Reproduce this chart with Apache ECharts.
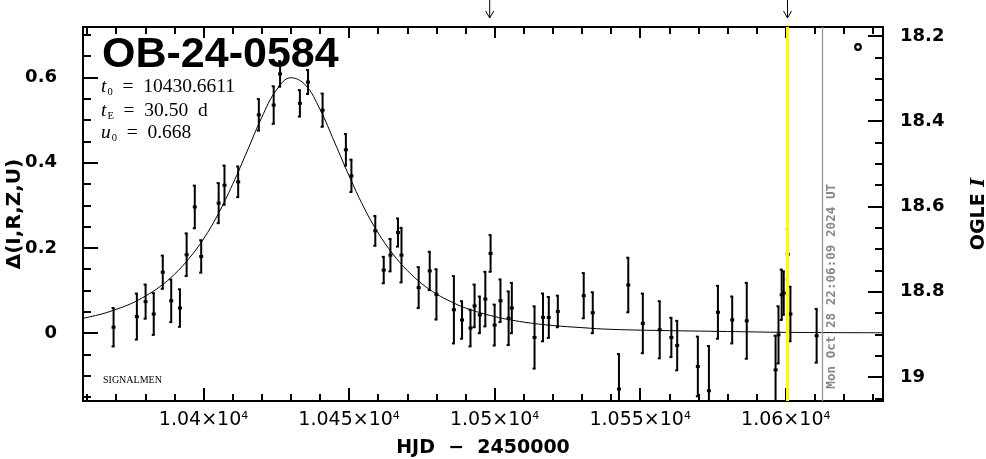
<!DOCTYPE html>
<html><head><meta charset="utf-8">
<script src="https://cdn.jsdelivr.net/npm/echarts@6/dist/echarts.min.js"></script>
<style>html,body{margin:0;padding:0;background:#fff}#c{width:986px;height:459px}</style>
</head><body><div id="c"></div>
<script>
// ---- data ----
const obsHJD = [10369.1,10377.1,10380.1,10382.9,10386.0,10388.9,10391.9,10394.2,10397.0,10399.2,
  10405.2,10407.2,10411.9,10419.0,10424.1,10426.3,10433.1,10435.9,10440.9,10448.9,
  10450.8,10459.0,10461.9,10464.2,10466.8,10468.0,10473.9,10477.7,10480.0,10486.0,
  10488.8,10491.7,10493.1,10494.9,10496.8,10498.6,10500.0,10502.0,10504.8,10505.9,
  10513.7,10516.6,10518.6,10521.7,10530.6,10533.7,10542.7,10545.9,10550.9,10556.7,
  10560.7,10562.7,10569.8,10573.6,10576.7,10581.6,10586.6,10596.5,10597.5,10598.6,
  10599.3,10600.7,10601.6,10610.6];
const obsDelta = [0.014,0.039,0.074,0.045,0.143,0.076,0.059,0.184,0.296,0.180,
  0.305,0.347,0.355,0.512,0.535,0.608,0.539,0.589,0.523,0.430,
  0.369,0.240,0.148,0.183,0.236,0.183,0.107,0.146,0.091,0.055,
  0.031,0.012,0.064,0.043,0.080,0.187,0.019,0.076,0.035,0.059,
  -0.010,0.037,0.037,0.051,0.088,0.048,-0.131,0.113,0.023,0.008,
  -0.010,-0.029,-0.078,-0.135,0.049,0.031,0.029,-0.086,-0.004,0.090,
  0.094,0.185,0.045,-0.006];
const obsErr = [0.045,0.054,0.040,0.049,0.039,0.050,0.044,0.050,0.050,0.038,
  0.047,0.046,0.036,0.037,0.044,0.030,0.031,0.028,0.039,0.037,
  0.038,0.035,0.031,0.038,0.033,0.064,0.048,0.045,0.059,0.079,
  0.044,0.043,0.050,0.043,0.064,0.043,0.048,0.050,0.063,0.059,
  0.073,0.056,0.048,0.037,0.053,0.048,0.082,0.064,0.070,0.067,
  0.046,0.058,0.070,0.105,0.062,0.055,0.089,0.080,0.067,0.059,
  0.051,0.059,0.064,0.063];
const modelHJD = [10358.6,10365,10370,10375,10380,10385,10390,10395,10400,10405,10410,10415,
  10420,10425,10430,10435,10440,10445,10450,10455,10460,10465,10470,10475,10480,10485,
  10490,10500,10510,10520,10530,10540,10560,10580,10600,10633.4];
const modelDelta = [0.035,0.045,0.056,0.069,0.087,0.109,0.138,0.175,0.221,0.279,0.349,0.427,
  0.506,0.570,0.599,0.582,0.525,0.448,0.369,0.296,0.235,0.186,0.147,0.116,0.092,0.074,
  0.059,0.039,0.026,0.018,0.013,0.009,0.006,0.004,0.002,0.001];
const xMajorTicks = [10400,10450,10500,10550,10600];
const xTickLabels = ['1.04','1.045','1.05','1.055','1.06'];
const xMinorTicks = [10360,10370,10380,10390,10400,10410,10420,10430,10440,10450,10460,10470,
  10480,10490,10500,10510,10520,10530,10540,10550,10560,10570,10580,10590,10600,10610,10620,10630];
const yMajorTicks = [0,0.2,0.4,0.6];
const yTickLabels = ['0','0.2','0.4','0.6'];
const yMinorTicks = [-0.15,-0.1,-0.05,0,0.05,0.1,0.15,0.2,0.25,0.3,0.35,0.4,0.45,0.5,0.55,0.6,0.65,0.7];
const magMajorTicks = [18.2,18.4,18.6,18.8,19];
const magTickLabels = ['18.2','18.4','18.6','18.8','19'];
const magMinorTicks = [18.2,18.25,18.3,18.35,18.4,18.45,18.5,18.55,18.6,18.65,18.7,18.75,18.8,18.85,18.9,18.95,19,19.05];
const arrowHJD = [10498.3,10600.6];
const yellowHJD = 10600.6;
const greyHJD = 10612.7;
const fitParams = [['t','0','10430.6611'],['t','E','30.50  d'],['u','0','0.668']];

// ---- chart ----
const xMin = 10358.6, xMax = 10633.4;
const yMin = -0.159, yMax = 0.718;
const magAtZero = 18.897;
const chart = echarts.init(document.getElementById('c'), null, {renderer:'canvas'});
const black = '#000';
function xAx(pos, major) {
  return {type:'value', min:xMin, max:xMax, position:pos, gridIndex:0, nameMoveOverlap:false,
    axisLine:{show:true, onZero:false, lineStyle:{color:black, width:2}},
    axisTick:{show:true, inside:true, length: major ? (pos==='bottom'?13:11) : 7,
      lineStyle:{color:black, width:2}, customValues: major ? xMajorTicks : xMinorTicks},
    axisLabel: (major && pos==='bottom') ? {show:true, customValues:xMajorTicks, margin:10,
      color:black, fontFamily:'DejaVu Sans', fontSize:19,
      formatter:(v)=>{const i=xMajorTicks.indexOf(Math.round(v)); return i<0?'':xTickLabels[i]+'×10{s|4}';},
      rich:{s:{fontSize:11, fontFamily:'DejaVu Sans', color:black, verticalAlign:'top', padding:[0,0,8,0]}}} : {show:false},
    splitLine:{show:false}};
}
function yAx(pos, major, isMag) {
  const ax = {type:'value', position:pos, gridIndex:0, nameMoveOverlap:false,
    min: isMag ? +(magAtZero - yMax).toFixed(4) : yMin,
    max: isMag ? +(magAtZero - yMin).toFixed(4) : yMax,
    inverse: !!isMag,
    axisLine:{show:true, onZero:false, lineStyle:{color:black, width:2}},
    axisTick:{show:true, inside:true, length: major?15:8, lineStyle:{color:black, width:2},
      customValues: isMag ? (major?magMajorTicks:magMinorTicks) : (major?yMajorTicks:yMinorTicks)},
    axisLabel:{show:false}, splitLine:{show:false}};
  if (major) {
    const vals = isMag ? magMajorTicks : yMajorTicks;
    const labs = isMag ? magTickLabels : yTickLabels;
    ax.axisLabel = {show:true, customValues: vals, margin: isMag?17:26, color:black,
      fontFamily:'DejaVu Sans', fontWeight:'bold', fontSize:18,
      formatter:(v)=>{let i=vals.findIndex(t=>Math.abs(t-v)<1e-6); return i<0?'':labs[i];}};
  }
  return ax;
}
const xAxes = [xAx('bottom',true), xAx('bottom',false), xAx('top',true), xAx('top',false)];
xAxes[0].name = 'HJD  −  2450000';
xAxes[0].nameLocation = 'middle';
xAxes[0].nameGap = 38;
xAxes[0].nameTextStyle = {color:black, fontFamily:'DejaVu Sans', fontSize:19, fontWeight:'bold'};
const yAxes = [yAx('left',true,false), yAx('left',false,false), yAx('right',true,true), yAx('right',false,true)];
yAxes[0].name = 'Δ(I,R,Z,U)';
yAxes[0].nameLocation = 'middle';
yAxes[0].nameRotate = 90;
yAxes[0].nameGap = 58;
yAxes[0].nameTextStyle = {color:black, fontFamily:'DejaVu Sans', fontSize:20, fontWeight:'bold'};
yAxes[2].name = '{a|OGLE }{b|I}';
yAxes[2].nameLocation = 'middle';
yAxes[2].nameRotate = 90;
yAxes[2].nameGap = 87;
yAxes[2].nameTextStyle = {color:black, rich:{
  a:{fontFamily:'DejaVu Sans', fontSize:19, fontWeight:'bold', color:black},
  b:{fontFamily:'DejaVu Serif', fontSize:19, fontWeight:'bold', fontStyle:'italic', color:black}}};

const errData = obsHJD.map((t,i)=>[t, obsDelta[i], obsErr[i]]);
function renderErr(params, api) {
  const x = api.value(0), y = api.value(1), e = api.value(2);
  const pT = api.coord([x, y + e]), pB = api.coord([x, y - e]), pC = api.coord([x, y]);
  const st = {stroke:black, lineWidth:2};
  return {type:'group', children:[
    {type:'line', shape:{x1:pT[0], y1:pT[1], x2:pB[0], y2:pB[1]}, style:st},
    {type:'line', shape:{x1:pT[0]-2, y1:pT[1], x2:pT[0]+1, y2:pT[1]}, style:st},
    {type:'line', shape:{x1:pB[0]-2, y1:pB[1], x2:pB[0]+1, y2:pB[1]}, style:st},
    {type:'rect', shape:{x:pC[0]-2, y:pC[1]-1.5, width:4, height:3}, style:{fill:black}}
  ]};
}

const paramGraphics = fitParams.map((p,i)=>({
  type:'text', left:101, top:[77,101,123][i], z:10,
  style:{text:'{v|'+p[0]+'}{s|'+p[1]+'}{n|  =  '+p[2]+'}',
    rich:{v:{fontFamily:'Liberation Serif', fontStyle:'italic', fontSize:19.5, fill:black, lineHeight:21},
          s:{fontFamily:'Liberation Serif', fontSize:10.5, fill:black, verticalAlign:'bottom', lineHeight:21, padding:[7,0,0,1]},
          n:{fontFamily:'Liberation Serif', fontSize:19.5, fill:black, lineHeight:21}}}
}));

chart.setOption({
  animation:false,
  backgroundColor:'#fff',
  grid:{left:83, right:103, top:27, bottom:58, containLabel:false, outerBoundsMode:'none'},
  xAxis:xAxes,
  yAxis:yAxes,
  series:[
    {type:'line', name:'model', xAxisIndex:0, yAxisIndex:0, data:modelHJD.map((t,i)=>[t,modelDelta[i]]),
     smooth:0.4, showSymbol:false, lineStyle:{color:black, width:1}, z:2, clip:true,
     markLine:{silent:true, symbol:['none','none'], label:{show:false}, animation:false,
       data:[{xAxis:greyHJD, lineStyle:{color:'#999', width:1.3, type:'solid'}},
             {xAxis:yellowHJD, lineStyle:{color:'#ffff00', width:3, type:'solid'}}]}},
    {type:'custom', name:'data', xAxisIndex:0, yAxisIndex:0, data:errData, renderItem:renderErr, clip:true, z:3}
  ],
  graphic:[
    {type:'text', left:102, top:34, z:10, style:{text:'OB-24-0584', fontFamily:'Liberation Sans', fontWeight:'bold', fontSize:43, fill:black}},
    {type:'text', left:103, top:375, z:10, style:{text:'SIGNALMEN', fontFamily:'Liberation Serif', fontSize:10, fill:black}},
    {type:'circle', shape:{cx:858, cy:47, r:2.8}, style:{fill:null, stroke:black, lineWidth:2.2}, z:10}
  ].concat(paramGraphics)
});

// annotations tied to data coordinates
const extra = [];
arrowHJD.forEach(t=>{
  const px = chart.convertToPixel({xAxisIndex:0}, t);
  extra.push({type:'polyline', shape:{points:[[px,0],[px,18]]}, style:{stroke:black, lineWidth:1, fill:null}, z:10});
  extra.push({type:'polyline', shape:{points:[[px-4,11],[px,18],[px+4,11]]}, style:{stroke:black, lineWidth:1, fill:null}, z:10});
});
const gpx = chart.convertToPixel({xAxisIndex:0}, greyHJD);
const ybot = chart.convertToPixel({yAxisIndex:0}, -0.13);
extra.push({type:'text', x:gpx+9, y:ybot, rotation:Math.PI/2, z:10,
  style:{text:'Mon Oct 28 22:06:09 2024 UT', fontFamily:'DejaVu Sans Mono', fontWeight:'bold', fontSize:12.6,
    fill:'#888', align:'left', verticalAlign:'middle'}});
const opt = chart.getOption();
chart.setOption({graphic: opt.graphic[0].elements.map(()=>({})).concat(extra)});
</script></body></html>
